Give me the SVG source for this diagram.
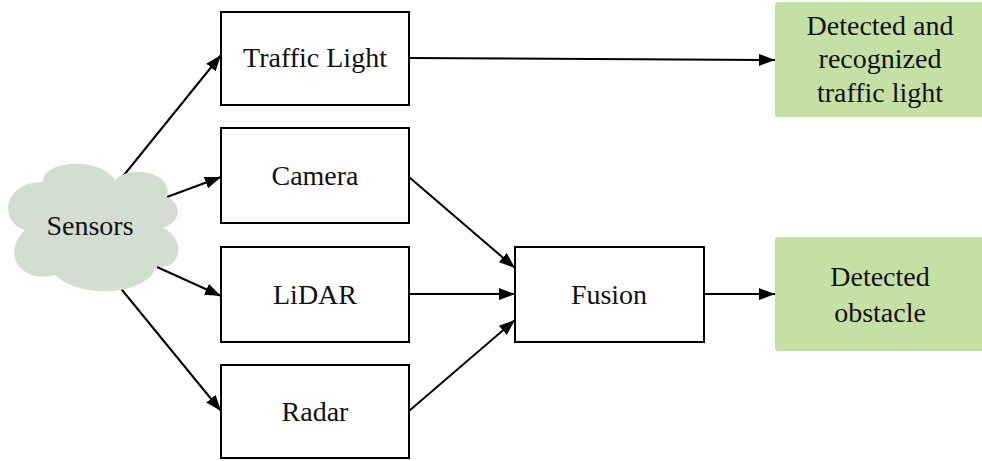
<svg xmlns="http://www.w3.org/2000/svg" width="982" height="461" viewBox="0 0 982 461">
<style>
.box{fill:#fff;stroke:#000;stroke-width:2}
.out{fill:#c5e0a5;stroke:none}
.t{font-family:"Liberation Serif",serif;font-size:28px;fill:#111;text-anchor:middle}
.c{stroke:#000;stroke-width:2;fill:none;marker-end:url(#ah)}
</style>
<defs>
<marker id="ah" viewBox="0 0 16 12" refX="16" refY="6" markerWidth="16" markerHeight="12" markerUnits="userSpaceOnUse" orient="auto">
<path d="M0,0 L16,6 L0,12 Z" fill="#000"/>
</marker>
</defs>
<rect width="982" height="461" fill="#fff"/>
<g id="connectors">
<line class="c" x1="120" y1="180" x2="221" y2="55"/>
<line class="c" x1="167" y1="197" x2="221" y2="177"/>
<line class="c" x1="157" y1="267" x2="221" y2="296"/>
<line class="c" x1="118" y1="285" x2="221" y2="411"/>
<line class="c" x1="409" y1="58" x2="775" y2="60"/>
<line class="c" x1="409" y1="177" x2="515" y2="268"/>
<line class="c" x1="409" y1="294" x2="515" y2="294"/>
<line class="c" x1="409" y1="411" x2="515" y2="320"/>
<line class="c" x1="704" y1="294" x2="775" y2="294"/>
</g>
<g id="sensors">
<path d="M43,182 C42,160 100,156 115,180 C130,164 174,172 167,197 C184,205 180,222 163,228 C188,240 180,272 157,266 C145,298 78,298 55,275 C22,284 0,255 25,230 C-2,222 3,182 43,182 Z" fill="#d3ddd1"/>
<text class="t" x="90" y="235">Sensors</text>
</g>
<g id="traffic-light">
<rect class="box" x="221" y="12" width="188" height="93"/>
<text class="t" x="315" y="67">Traffic Light</text>
</g>
<g id="camera">
<rect class="box" x="221" y="128" width="188" height="95"/>
<text class="t" x="315" y="185">Camera</text>
</g>
<g id="lidar">
<rect class="box" x="221" y="247" width="188" height="95"/>
<text class="t" x="315" y="304">LiDAR</text>
</g>
<g id="radar">
<rect class="box" x="221" y="365" width="188" height="93"/>
<text class="t" x="315" y="421">Radar</text>
</g>
<g id="fusion">
<rect class="box" x="515" y="247" width="189" height="95"/>
<text class="t" x="609" y="304">Fusion</text>
</g>
<g id="detected-traffic-light">
<rect class="out" x="775" y="2" width="212" height="115" rx="3"/>
<text class="t" x="880" y="35">Detected and</text>
<text class="t" x="880" y="68">recognized</text>
<text class="t" x="880" y="102">traffic light</text>
</g>
<g id="detected-obstacle">
<rect class="out" x="775" y="237" width="212" height="114" rx="3"/>
<text class="t" x="880" y="286">Detected</text>
<text class="t" x="880" y="322">obstacle</text>
</g>
</svg>
